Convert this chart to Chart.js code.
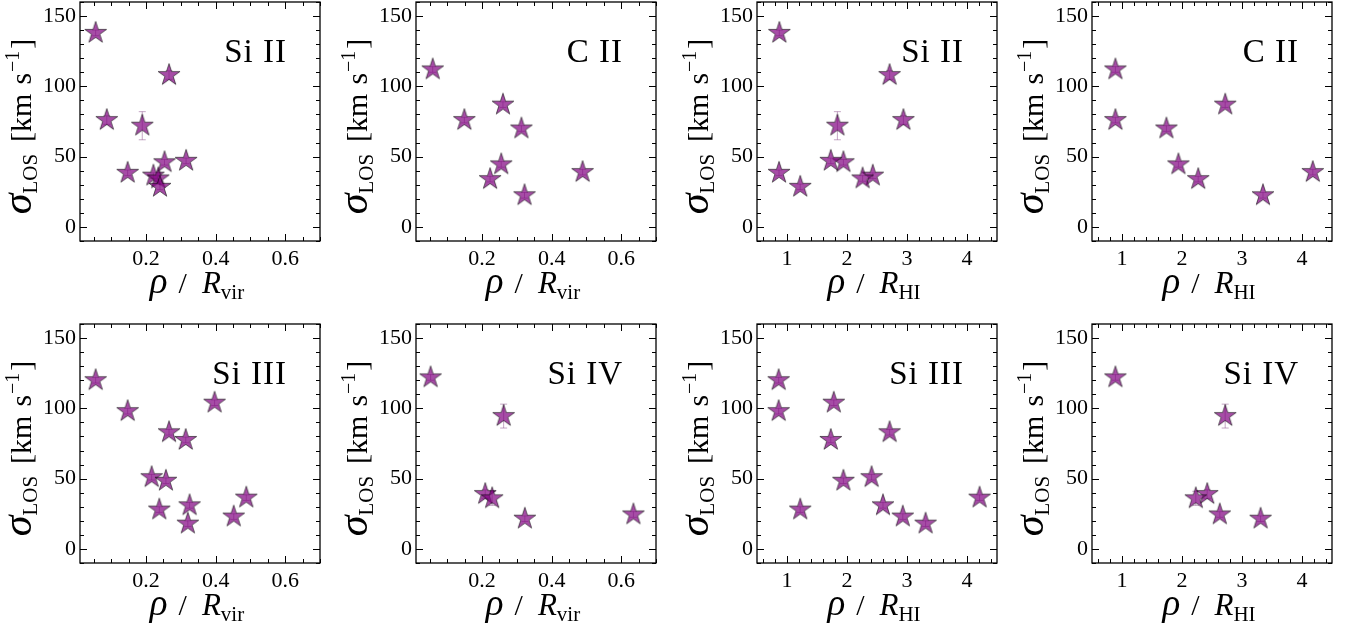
<!DOCTYPE html>
<html>
<head>
<meta charset="utf-8">
<script src="https://cdn.jsdelivr.net/npm/chart.js@4.4.0/dist/chart.umd.min.js"></script>
<style>
  body { margin: 0; background: #fff; }
  #wrap { position: relative; width: 1359px; height: 629px; overflow: hidden; background: #fff; }
  #wrap canvas { position: absolute; }
</style>
</head>
<body>
<div id="wrap"></div>
<script>
// tick values
const yMajor = [0, 50, 100, 150];
const yMinor = [-10, 10, 20, 30, 40, 60, 70, 80, 90, 110, 120, 130, 140, 160];
const virMajor = [0.2, 0.4, 0.6];
const virMinor = [0.05, 0.1, 0.15, 0.25, 0.3, 0.35, 0.45, 0.5, 0.55, 0.65, 0.7];
const hiMajor = [1, 2, 3, 4];
const hiMinor = [0.6, 0.8, 1.2, 1.4, 1.6, 1.8, 2.2, 2.4, 2.6, 2.8, 3.2, 3.4, 3.6, 3.8, 4.2, 4.4];

// Si II
const siiVirX = [0.055, 0.087, 0.189, 0.266, 0.147, 0.221, 0.235, 0.240, 0.253, 0.315];
const siiHiX  = [0.872, 2.94, 1.84, 2.71, 0.867, 2.43, 2.26, 1.22, 1.94, 1.73];
const siiY    = [138, 76, 72, 108, 38.5, 36.5, 34.5, 28.5, 46, 47];
const siiErr  = [2, 3, 10, 3, 2, 2, 2, 2, 2, 2];

// C II
const ciiVirX = [0.058, 0.149, 0.260, 0.313, 0.255, 0.223, 0.322, 0.489];
const ciiHiX  = [0.89, 0.89, 2.72, 1.74, 1.94, 2.27, 3.35, 4.18];
const ciiY    = [112, 76, 87, 70, 44.5, 34, 22.5, 39];
const ciiErr  = [2, 2, 2, 2, 2, 2, 2, 2];

// Si III
const siiiVirX = [0.055, 0.147, 0.266, 0.314, 0.397, 0.216, 0.257, 0.238, 0.325, 0.320, 0.452, 0.488];
const siiiHiX  = [0.861, 0.861, 2.71, 1.73, 1.78, 2.41, 1.94, 1.22, 2.60, 3.31, 2.93, 4.21];
const siiiY    = [120, 98, 83, 77.5, 104, 51, 48.5, 28, 31, 18, 23, 36.5];
const siiiErr  = [2, 2, 2, 2, 2, 2, 2, 2, 2, 2, 2, 2];

// Si IV
const sivVirX = [0.052, 0.262, 0.209, 0.229, 0.323, 0.635];
const sivHiX  = [0.89, 2.72, 2.42, 2.23, 3.31, 2.63];
const sivY    = [122, 94.5, 39, 36, 21.5, 24.5];
const sivErr  = [2, 8.5, 3, 5, 2, 2];

const FONT = "'Liberation Serif', 'Times New Roman', serif";

function makeStar() {
  const c = document.createElement('canvas');
  c.width = 28; c.height = 28;
  const g = c.getContext('2d');
  const R = 11.5, r = R * 0.381966;
  g.beginPath();
  for (let i = 0; i < 10; i++) {
    const a = -Math.PI / 2 + i * Math.PI / 5;
    const rr = i % 2 ? r : R;
    g.lineTo(14 + rr * Math.cos(a), 14 + rr * Math.sin(a));
  }
  g.closePath();
  g.fillStyle = 'rgba(128,0,128,0.7)';
  g.fill();
  g.strokeStyle = 'rgba(0,0,0,0.7)';
  g.lineWidth = 0.8;
  g.stroke();
  return c;
}
const star = makeStar();

// draw a row of text pieces (sub/superscripts)
function drawPieces(ctx, parts, x, y) {
  let w = 0;
  parts.forEach(p => {
    ctx.font = (p.italic ? 'italic ' : '') + p.size + 'px ' + FONT;
    p.w = ctx.measureText(p.t).width;
    w += (p.gap || 0) + p.w;
  });
  let cx = x - w / 2;
  ctx.textAlign = 'left';
  ctx.textBaseline = 'alphabetic';
  ctx.fillStyle = '#000';
  parts.forEach(p => {
    cx += p.gap || 0;
    ctx.font = (p.italic ? 'italic ' : '') + p.size + 'px ' + FONT;
    ctx.fillText(p.t, cx, y + (p.dy || 0));
    cx += p.w;
  });
}

const panelPlugin = {
  id: 'panel',
  beforeDatasetsDraw(chart) {
    const ctx = chart.ctx, xs = chart.scales.x, ys = chart.scales.y;
    const o = chart.options.plugins.panel;
    ctx.save();
    ctx.strokeStyle = 'rgba(140,80,140,0.5)';
    ctx.lineWidth = 1;
    o.xv.forEach((xv, i) => {
      const px = xs.getPixelForValue(xv);
      const y1 = ys.getPixelForValue(o.yv[i] - o.err[i]);
      const y2 = ys.getPixelForValue(o.yv[i] + o.err[i]);
      ctx.beginPath();
      ctx.moveTo(px, y1); ctx.lineTo(px, y2);
      ctx.moveTo(px - 3.5, y1); ctx.lineTo(px + 3.5, y1);
      ctx.moveTo(px - 3.5, y2); ctx.lineTo(px + 3.5, y2);
      ctx.stroke();
    });
    ctx.restore();
  },
  afterDraw(chart) {
    const ctx = chart.ctx, a = chart.chartArea;
    const xs = chart.scales.x, ys = chart.scales.y;
    const o = chart.options.plugins.panel;
    ctx.save();
    ctx.strokeStyle = '#000';
    ctx.lineWidth = 1;
    ctx.beginPath();
    const xt = (vals, len) => vals.forEach(v => {
      const p = Math.round(xs.getPixelForValue(v)) + 0.5;
      ctx.moveTo(p, a.bottom); ctx.lineTo(p, a.bottom - len);
      ctx.moveTo(p, a.top); ctx.lineTo(p, a.top + len);
    });
    const yt = (vals, len) => vals.forEach(v => {
      const p = Math.round(ys.getPixelForValue(v)) + 0.5;
      ctx.moveTo(a.left, p); ctx.lineTo(a.left + len, p);
      ctx.moveTo(a.right, p); ctx.lineTo(a.right - len, p);
    });
    xt(o.major, 7); xt(o.minor, 4);
    yt(yMajor, 7); yt(yMinor, 4);
    ctx.stroke();
    ctx.lineWidth = 1.3;
    ctx.strokeRect(a.left, a.top, a.right - a.left, a.bottom - a.top);

    // ion label
    ctx.font = '33px ' + FONT;
    ctx.letterSpacing = '1px';
    ctx.fillStyle = '#000';
    ctx.textAlign = 'right';
    ctx.textBaseline = 'alphabetic';
    ctx.fillText(o.ion, a.right - 33, a.top + 60);
    ctx.letterSpacing = '0px';

    // x title
    drawPieces(ctx, [
      { t: 'ρ', size: 37, italic: true },
      { t: '/', size: 30, gap: 11 },
      { t: 'R', size: 31, italic: true, gap: 15 },
      { t: o.sub, size: 21, dy: 6 }
    ], (a.left + a.right) / 2 - 3, a.bottom + 52);

    // y title
    ctx.save();
    ctx.translate(a.left - 49, (a.top + a.bottom) / 2 + 5);
    ctx.rotate(-Math.PI / 2);
    drawPieces(ctx, [
      { t: 'σ', size: 42, italic: true },
      { t: 'LOS', size: 21, dy: 6 },
      { t: '[km', size: 30, gap: 12 },
      { t: 's', size: 30, gap: 9 },
      { t: '−1', size: 20, dy: -12, gap: 1 },
      { t: ']', size: 30, gap: 2 }
    ], 0, 0);
    ctx.restore();
    ctx.restore();
  }
};

const panels = [
  { ion: 'Si II',  xv: siiVirX,  yv: siiY,  err: siiErr,  kind: 'vir', left: 0,    top: 0 },
  { ion: 'C II',   xv: ciiVirX,  yv: ciiY,  err: ciiErr,  kind: 'vir', left: 336,  top: 0 },
  { ion: 'Si II',  xv: siiHiX,   yv: siiY,  err: siiErr,  kind: 'HI',  left: 677,  top: 0 },
  { ion: 'C II',   xv: ciiHiX,   yv: ciiY,  err: ciiErr,  kind: 'HI',  left: 1012, top: 0 },
  { ion: 'Si III', xv: siiiVirX, yv: siiiY, err: siiiErr, kind: 'vir', left: 0,    top: 322 },
  { ion: 'Si IV',  xv: sivVirX,  yv: sivY,  err: sivErr,  kind: 'vir', left: 336,  top: 322 },
  { ion: 'Si III', xv: siiiHiX,  yv: siiiY, err: siiiErr, kind: 'HI',  left: 677,  top: 322 },
  { ion: 'Si IV',  xv: sivHiX,   yv: sivY,  err: sivErr,  kind: 'HI',  left: 1012, top: 322 }
];

const wrap = document.getElementById('wrap');
panels.forEach(p => {
  const cv = document.createElement('canvas');
  cv.width = 340; cv.height = 307;
  cv.style.left = p.left + 'px';
  cv.style.top = p.top + 'px';
  cv.style.width = '340px'; cv.style.height = '307px';
  wrap.appendChild(cv);
  const vir = p.kind === 'vir';
  const major = vir ? virMajor : hiMajor;
  new Chart(cv, {
    type: 'scatter',
    data: {
      datasets: [{
        data: p.xv.map((x, i) => ({ x: x, y: p.yv[i] })),
        pointStyle: star,
        pointRadius: 11,
        pointHoverRadius: 11
      }]
    },
    options: {
      responsive: false,
      animation: false,
      events: [],
      layout: { autoPadding: false, padding: { top: 2, right: 20, left: 0, bottom: 0 } },
      plugins: {
        legend: { display: false },
        tooltip: { enabled: false },
        panel: { ion: p.ion, xv: p.xv, yv: p.yv, err: p.err,
                 major: major, minor: vir ? virMinor : hiMinor,
                 sub: vir ? 'vir' : 'HI' }
      },
      scales: {
        x: {
          type: 'linear',
          min: vir ? 0.01 : 0.5,
          max: vir ? 0.7 : 4.5,
          afterBuildTicks: s => { s.ticks = major.map(v => ({ value: v })); },
          afterFit: s => { s.height = 66; s.paddingLeft = 0; s.paddingRight = 0; },
          grid: { display: false, drawTicks: false },
          border: { display: false },
          ticks: {
            padding: 5,
            color: '#000',
            font: { family: FONT, size: 22 },
            callback: v => vir ? v.toFixed(1) : String(v)
          }
        },
        y: {
          type: 'linear',
          min: -10,
          max: 160,
          afterBuildTicks: s => { s.ticks = yMajor.map(v => ({ value: v })); },
          afterFit: s => { s.width = 80; s.paddingTop = 0; s.paddingBottom = 0; },
          grid: { display: false, drawTicks: false },
          border: { display: false },
          ticks: {
            padding: 4,
            color: '#000',
            font: { family: FONT, size: 22 },
            callback: v => String(v)
          }
        }
      }
    },
    plugins: [panelPlugin]
  });
});
</script>
</body>
</html>
